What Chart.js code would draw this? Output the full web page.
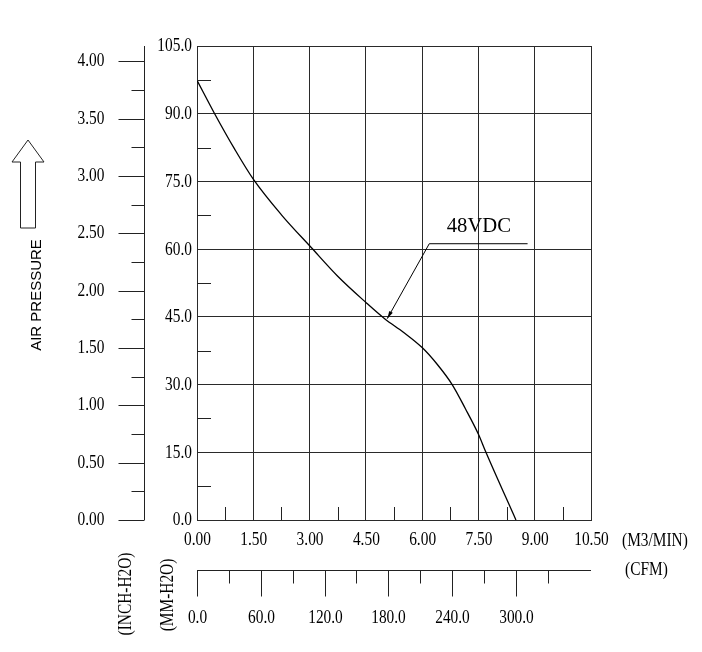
<!doctype html>
<html>
	<head>
		<meta charset="utf-8" />
		<title>Fan P-Q curve</title>
		<script src="https://cdn.jsdelivr.net/npm/chart.js@4.4.1/dist/chart.umd.min.js"></script>
		<style>
			html,
			body {
				margin: 0;
				padding: 0;
				background: #fff;
			}
			#wrap {
				width: 702px;
				height: 652px;
			}
		</style>
	</head>
	<body>
		<div id="wrap"><canvas id="chart"></canvas></div>
		<script>
			// air flow (m3/min) vs static pressure (mm H2O)
			const flowM3 = [0, 0.47, 1.0, 1.5, 2.25, 3.05, 3.75, 4.5, 5.0, 5.5, 6.0, 6.4, 6.8, 7.15, 7.5, 7.7, 8.5];
			const pressureMM = [97.4, 90, 82.2, 75.5, 67.6, 60.3, 54, 48.2, 44.6, 41.6, 38.2, 34.5, 30, 24.7, 19, 15, 0];

			// secondary scales
			const inchTicks = [0, 0.5, 1.0, 1.5, 2.0, 2.5, 3.0, 3.5, 4.0];
			const inchMinor = [0.25, 0.75, 1.25, 1.75, 2.25, 2.75, 3.25, 3.75];
			const cfmTicks = [0, 60, 120, 180, 240, 300];
			const cfmMinor = [30, 90, 150, 210, 270, 330];
			const mmMinor = [7.5, 22.5, 37.5, 52.5, 67.5, 82.5, 97.5];
			const m3Minor = [0.75, 2.25, 3.75, 5.25, 6.75, 8.25, 9.75];

			// curve label: arrow tip, elbow, end of leader (m3/min, mm H2O)
			const seriesName = "48VDC";
			const leader = [
				[5.07, 44.6],
				[6.19, 61.2],
				[8.81, 61.2],
			];

			const MM_PER_INCH = 25.4;
			const CFM_PER_M3 = 35.3147;
			const serif = '"Liberation Serif", "Times New Roman", serif';
			const labelFont = "19px " + serif;
			const squeeze = 0.81; // the drawing uses a narrow Times face

			const extras = {
				id: "extras",
				afterDraw(chart) {
					const ctx = chart.ctx;
					const xs = chart.scales.x;
					const ys = chart.scales.y;
					const area = chart.chartArea;
					ctx.save();
					ctx.strokeStyle = "#222";
					ctx.fillStyle = "#000";
					ctx.lineWidth = 1;

					const line = (x1, y1, x2, y2) => {
						ctx.beginPath();
						ctx.moveTo(x1, y1);
						ctx.lineTo(x2, y2);
						ctx.stroke();
					};
					const px = (v) => Math.round(v) + 0.5;

					// narrow text, optionally turned upright
					const text = (t, x, y, align, opts = {}) => {
						ctx.save();
						ctx.translate(x, y);
						if (opts.rotate) ctx.rotate(-Math.PI / 2);
						ctx.scale(opts.squeeze || squeeze, 1);
						ctx.font = opts.font || labelFont;
						ctx.textAlign = align;
						ctx.textBaseline = opts.baseline || "middle";
						ctx.fillText(t, 0, 0);
						ctx.restore();
					};

					// main axis labels from the chart scales
					ys.ticks.forEach((t) => {
						text(t.value.toFixed(1), area.left - 5, ys.getPixelForValue(t.value) + 0.5, "right");
					});
					xs.ticks.forEach((t) => {
						text(t.value.toFixed(2), xs.getPixelForValue(t.value) + 0.5, area.bottom + 20, "center");
					});

					// minor ticks inside the plot
					mmMinor.forEach((v) => {
						const y = px(ys.getPixelForValue(v));
						line(area.left, y, area.left + 14, y);
					});
					m3Minor.forEach((v) => {
						const x = px(xs.getPixelForValue(v));
						line(x, area.bottom, x, area.bottom - 13);
					});

					// inch H2O axis
					const ax = px(area.left - 53);
					line(ax, area.top, ax, area.bottom);
					inchTicks.forEach((v) => {
						const y = px(ys.getPixelForValue(v * MM_PER_INCH));
						line(ax - 26, y, ax, y);
						text(v.toFixed(2), ax - 40, y, "right");
					});
					inchMinor.forEach((v) => {
						const y = px(ys.getPixelForValue(v * MM_PER_INCH));
						line(ax - 13, y, ax, y);
					});

					// CFM axis
					const cy = px(area.bottom + 50);
					line(area.left, cy, area.right, cy);
					cfmTicks.forEach((v) => {
						const x = px(xs.getPixelForValue(v / CFM_PER_M3));
						line(x, cy, x, cy + 26);
						text(v.toFixed(1), x, cy + 48, "center");
					});
					cfmMinor.forEach((v) => {
						const x = px(xs.getPixelForValue(v / CFM_PER_M3));
						line(x, cy, x, cy + 13);
					});

					// unit labels
					text("(M3/MIN)", area.right + 31, area.bottom + 21, "left");
					text("(CFM)", area.right + 34, cy, "left");
					text("(INCH-H2O)", 126, 594, "center", { rotate: true });
					text("(MM-H2O)", 168, 595, "center", { rotate: true });
					text("AIR PRESSURE", 37, 295, "center", {
						rotate: true,
						squeeze: 1,
						font: '15px "Liberation Sans", Arial, sans-serif',
					});

					// hollow up arrow above the axis title
					ctx.beginPath();
					ctx.moveTo(28, 140);
					ctx.lineTo(44, 162);
					ctx.lineTo(35.5, 162);
					ctx.lineTo(35.5, 228);
					ctx.lineTo(20.5, 228);
					ctx.lineTo(20.5, 162);
					ctx.lineTo(12, 162);
					ctx.closePath();
					ctx.stroke();

					// series label with leader and arrow
					const pts = leader.map(([x, y]) => [xs.getPixelForValue(x), ys.getPixelForValue(y)]);
					ctx.strokeStyle = "#000";
					ctx.beginPath();
					ctx.moveTo(pts[0][0], pts[0][1]);
					pts.slice(1).forEach((p) => ctx.lineTo(p[0], p[1]));
					ctx.stroke();
					const ang = Math.atan2(pts[1][1] - pts[0][1], pts[1][0] - pts[0][0]);
					ctx.beginPath();
					ctx.moveTo(pts[0][0], pts[0][1]);
					ctx.lineTo(pts[0][0] + 8 * Math.cos(ang - 0.25), pts[0][1] + 8 * Math.sin(ang - 0.25));
					ctx.lineTo(pts[0][0] + 8 * Math.cos(ang + 0.25), pts[0][1] + 8 * Math.sin(ang + 0.25));
					ctx.closePath();
					ctx.fill();
					text(seriesName, (pts[1][0] + pts[2][0]) / 2 + 0.5, pts[1][1] - 12, "center", {
						squeeze: 0.94,
						font: "22px " + serif,
						baseline: "alphabetic",
					});

					ctx.restore();
				},
			};

			const gridColor = "#2a2a2a";

			new Chart(document.getElementById("chart"), {
				type: "line",
				data: {
					datasets: [
						{
							label: seriesName,
							data: flowM3.map((x, i) => ({ x: x, y: pressureMM[i] })),
							borderColor: "#000",
							borderWidth: 1.3,
							pointRadius: 0,
							fill: false,
							tension: 0.4,
							cubicInterpolationMode: "monotone",
						},
					],
				},
				options: {
					responsive: true,
					maintainAspectRatio: false,
					animation: false,
					events: [],
					layout: { padding: { left: 147, right: 111, top: 46, bottom: 0 } },
					plugins: {
						legend: { display: false },
						tooltip: { enabled: false },
					},
					scales: {
						x: {
							type: "linear",
							min: 0,
							max: 10.5,
							afterFit(scale) {
								scale.height = 132;
							},
							ticks: { stepSize: 1.5, display: false },
							grid: { color: gridColor, lineWidth: 1, drawTicks: false },
							border: { color: gridColor },
						},
						y: {
							min: 0,
							max: 105,
							afterFit(scale) {
								scale.width = 50;
							},
							ticks: { stepSize: 15, display: false },
							grid: { color: gridColor, lineWidth: 1, drawTicks: false },
							border: { color: gridColor },
						},
					},
				},
				plugins: [extras],
			});
		</script>
	</body>
</html>
